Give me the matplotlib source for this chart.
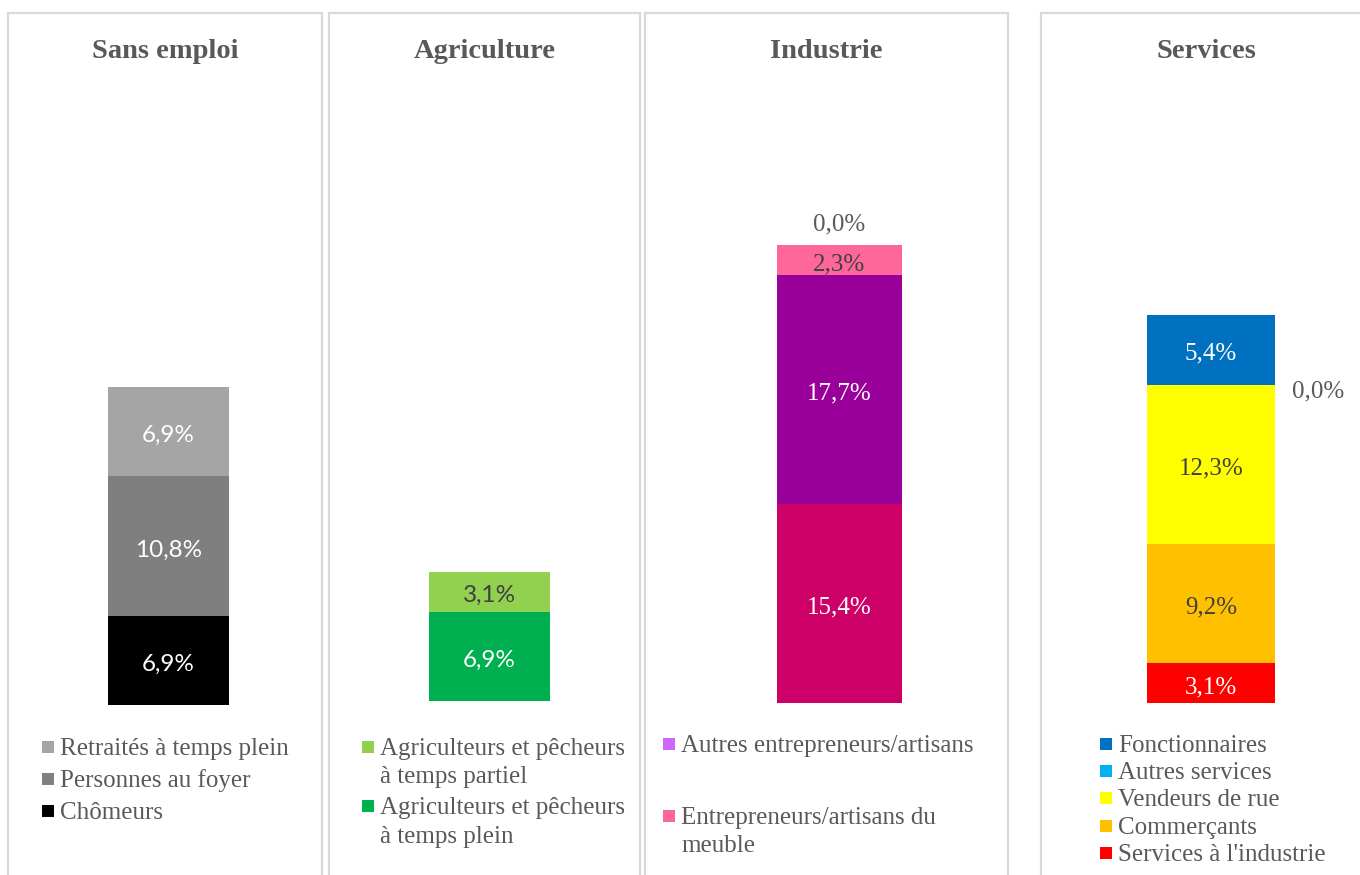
import matplotlib.pyplot as plt
from matplotlib.patches import Rectangle

# data (percent)
panels = ["Sans emploi", "Agriculture", "Industrie", "Services"]

sans_emploi_names = ["Chômeurs", "Personnes au foyer", "Retraités à temps plein"]
sans_emploi_vals = [6.9, 10.8, 6.9]

agri_names = ["Agriculteurs et pêcheurs\nà temps plein", "Agriculteurs et pêcheurs\nà temps partiel"]
agri_vals = [6.9, 3.1]

industrie_names = [None, None, "Entrepreneurs/artisans du\nmeuble", "Autres entrepreneurs/artisans"]
industrie_vals = [15.4, 17.7, 2.3, 0.0]

services_names = ["Services à l'industrie", "Commerçants", "Vendeurs de rue",
                  "Autres services", "Fonctionnaires"]
services_vals = [3.1, 9.2, 12.3, 0.0, 5.4]

W, H = 1360, 875
fig = plt.figure(figsize=(W / 100, H / 100), dpi=100)
GREY = "#595959"
SERIF = "Liberation Serif"
SANS = "Lato"


def fx(x):
    return x / W


def fy(y):
    return 1 - y / H


# panel settings: frame, bar centre/width/bottom, colours, label colours, legend layout
cfg = [
    dict(frame=(8, 322), cx=168.5, bw=121, bottom=705, vals=sans_emploi_vals, names=sans_emploi_names,
         colors=["#000000", "#7F7F7F", "#A5A5A5"], tcol=["white", "white", "white"],
         lfont=SANS, lsize=17.5, leg_x=42, leg_y=[811, 779, 747], leg_order=[2, 1, 0]),
    dict(frame=(329, 640), cx=489.5, bw=121, bottom=701, vals=agri_vals, names=agri_names,
         colors=["#00B050", "#92D050"], tcol=["white", "#404040"],
         lfont=SANS, lsize=17.5, leg_x=362, leg_y=[806, 747], leg_order=[1, 0]),
    dict(frame=(645, 1008), cx=839.5, bw=125, bottom=703, vals=industrie_vals, names=industrie_names,
         colors=["#CC0066", "#990099", "#FF6699", "#CC66FF"], tcol=["white", "white", "#404040", GREY],
         lfont=SERIF, lsize=18, leg_x=663, leg_y=[None, None, 816, 744], leg_order=[3, 2]),
    dict(frame=(1041, 1364), cx=1211, bw=128, bottom=703, vals=services_vals, names=services_names,
         colors=["#FF0000", "#FFC000", "#FFFF00", "#00B0F0", "#0070C0"],
         tcol=["white", "#404040", "#404040", GREY, "white"],
         lfont=SERIF, lsize=18, leg_x=1100, leg_y=[853, 826, 798, 771, 744], leg_order=[4, 3, 2, 1, 0]),
]

PX_PER_PCT = 12.94
YMAX = 36
LINE_H = 28.5

for title, c in zip(panels, cfg):
    x0, x1 = c["frame"]
    fig.patches.append(Rectangle((fx(x0), fy(H + 10)), fx(x1 - x0), fy(13) - fy(H + 10),
                                 transform=fig.transFigure, fill=False, edgecolor="#D9D9D9",
                                 linewidth=1.6, zorder=0))
    fig.text(fx((x0 + x1) / 2 if x1 < W else 1206), fy(51), title, ha="center", va="center",
             fontsize=20.5, fontweight="bold", color=GREY, family=SERIF)

    aw = 300
    ah = YMAX * PX_PER_PCT
    ax = fig.add_axes([fx(c["cx"] - aw / 2), fy(c["bottom"]), fx(aw), ah / H])
    ax.set_xlim(-aw / 2, aw / 2)
    ax.set_ylim(0, YMAX)
    ax.axis("off")

    base = 0
    for i, v in enumerate(c["vals"]):
        ax.bar(0, v, width=c["bw"], bottom=base, color=c["colors"][i], linewidth=0)
        lab = f"{v:.1f}%".replace(".", ",")
        if v > 0:
            ax.annotate(lab, (0, base + v / 2), xytext=(0, -3), textcoords="offset points",
                        ha="center", va="center", fontsize=c["lsize"],
                        color=c["tcol"][i], family=c["lfont"])
        elif title == "Industrie":
            ax.annotate(lab, (0, base), xytext=(0, 15), textcoords="offset points",
                        ha="center", va="center", fontsize=18, color=GREY, family=SERIF)
        else:
            ax.annotate(lab, (c["bw"] / 2, base), xytext=(31, -5), textcoords="offset points",
                        ha="center", va="center", fontsize=18, color=GREY, family=SERIF)
        base += v

    # legend, drawn by hand so the spacing matches
    for i in c["leg_order"]:
        y = c["leg_y"][i]
        fig.patches.append(Rectangle((fx(c["leg_x"]), fy(y + 6)), fx(12), 12 / H,
                                     transform=fig.transFigure, facecolor=c["colors"][i],
                                     edgecolor="none"))
        for k, line in enumerate(c["names"][i].split("\n")):
            fig.text(fx(c["leg_x"] + 18), fy(y + 8 + k * LINE_H), line, ha="left", va="baseline",
                     fontsize=18, color=GREY, family=SERIF)

fig.savefig("out.png", dpi=100)
